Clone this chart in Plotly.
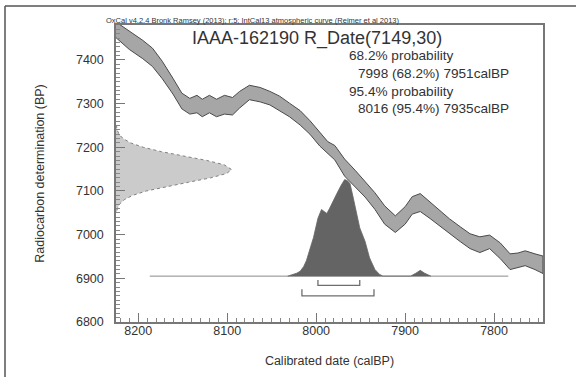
import plotly.graph_objects as go

# ---------------- data ----------------
# IntCal13 calibration band (calBP, upper BP, lower BP)
curve_cal = [8225, 8210, 8195, 8184, 8173, 8161, 8151, 8142, 8134, 8128, 8120, 8112, 8103, 8094,
             8086, 8075, 8063, 8052, 8041, 8030, 8018, 8007, 7996, 7987, 7979, 7968, 7956, 7945,
             7934, 7923, 7911, 7900, 7892, 7883, 7872, 7861, 7850, 7838, 7827, 7816, 7805, 7793,
             7782, 7773, 7765, 7754, 7745]
curve_upper = [7487, 7466, 7445, 7427, 7397, 7358, 7324, 7312, 7319, 7310, 7319, 7310, 7319, 7314,
               7328, 7342, 7337, 7328, 7317, 7301, 7284, 7261, 7234, 7213, 7204, 7173, 7147, 7122,
               7096, 7066, 7043, 7064, 7087, 7094, 7075, 7055, 7036, 7018, 7002, 6995, 6999, 6981,
               6956, 6958, 6963, 6956, 6951]
curve_lower = [7451, 7424, 7403, 7385, 7357, 7322, 7288, 7276, 7279, 7270, 7279, 7270, 7276, 7274,
               7290, 7309, 7304, 7297, 7283, 7270, 7251, 7230, 7203, 7187, 7171, 7134, 7110, 7086,
               7058, 7024, 7005, 7024, 7047, 7053, 7037, 7021, 7003, 6984, 6968, 6959, 6968, 6945,
               6920, 6925, 6929, 6920, 6911]

# Radiocarbon date R_Date(7149,30): BP values and relative density
rdate_bp = [7250, 7240, 7230, 7220, 7210, 7200, 7190, 7180, 7170, 7160, 7150, 7149, 7140, 7130,
            7120, 7110, 7100, 7090, 7080, 7070, 7060, 7050]
rdate_p = [0.0035, 0.010, 0.026, 0.061, 0.127, 0.236, 0.393, 0.586, 0.783, 0.935, 0.999, 1.0,
           0.956, 0.818, 0.627, 0.430, 0.263, 0.145, 0.071, 0.031, 0.012, 0.0043]

# Calibrated (posterior) distribution: calBP and relative probability
post_cal = [8032, 8028, 8022, 8018, 8014, 8011, 8007, 8003, 7998, 7994, 7991, 7988, 7985, 7981,
            7977, 7972, 7968, 7965, 7962, 7959, 7956, 7951, 7945, 7940, 7934, 7929, 7925,
            7894, 7888, 7883, 7878, 7871]
post_p = [0, 0.01, 0.03, 0.05, 0.10, 0.16, 0.27, 0.40, 0.60, 0.69, 0.67, 0.65, 0.70, 0.78,
          0.85, 0.94, 1.0, 0.99, 0.96, 0.84, 0.71, 0.50, 0.36, 0.19, 0.07, 0.02, 0,
          0, 0.03, 0.06, 0.03, 0]

# highest probability density ranges
hpd_68 = [7998, 7951]
hpd_95 = [8016, 7935]
baseline_range = [8187, 7784]

x_ticks = [8200, 8100, 8000, 7900, 7800]
y_ticks = [6800, 6900, 7000, 7100, 7200, 7300, 7400]

# ---------------- figure ----------------
XR = [8225, 7745]
YR = [6800, 7480]
base = 6905
post_scale = 221
rdate_scale = 130

fig = go.Figure()

# calibration band
fig.add_trace(go.Scatter(
    x=curve_cal + curve_cal[::-1], y=curve_upper + curve_lower[::-1],
    fill='toself', fillcolor='#a6a6a6', line=dict(color='#4a4a4a', width=1),
    mode='lines', hoverinfo='skip', showlegend=False))

# radiocarbon date distribution on the y axis
rx = [XR[0] - p * rdate_scale for p in rdate_p]
fig.add_trace(go.Scatter(
    x=[XR[0]] + rx + [XR[0]], y=[rdate_bp[0]] + rdate_bp + [rdate_bp[-1]],
    fill='toself', fillcolor='#cbcbcb', line=dict(color='#808080', width=1, dash='dot'),
    mode='lines', hoverinfo='skip', showlegend=False))

# baseline
fig.add_trace(go.Scatter(
    x=baseline_range, y=[base, base], mode='lines',
    line=dict(color='#8a8a8a', width=1), hoverinfo='skip', showlegend=False))

# posterior
py = [base + p * post_scale for p in post_p]
fig.add_trace(go.Scatter(
    x=post_cal, y=py, fill='toself', fillcolor='#646464',
    line=dict(color='#646464', width=0.8), mode='lines', hoverinfo='skip', showlegend=False))

# hpd brackets
for rng, yb, yt in [(hpd_68, 6884, 6896), (hpd_95, 6860, 6875)]:
    fig.add_trace(go.Scatter(
        x=[rng[0], rng[0], rng[1], rng[1]], y=[yt, yb, yb, yt], mode='lines',
        line=dict(color='#6e6e6e', width=1.3), hoverinfo='skip', showlegend=False))

font = 'Liberation Sans, Arial'
axis_common = dict(
    showline=True, linecolor='#777777', linewidth=1.5, mirror=True,
    ticks='inside', ticklen=9, tickcolor='#777777', tickwidth=1,
    showgrid=False, zeroline=False, automargin=False,
    tickfont=dict(family=font, size=12.5, color='#333333'),
    minor=dict(ticks='inside', ticklen=4, dtick=10, tickcolor='#888888', showgrid=False),
)

fig.update_xaxes(range=XR, tickvals=x_ticks, ticktext=[str(v) for v in x_ticks],
                 ticklabelstandoff=-4,
                 title=dict(text='Calibrated date (calBP)', standoff=19,
                            font=dict(family=font, size=12.5, color='#333333')),
                 **axis_common)
fig.update_yaxes(range=YR, tickvals=y_ticks, ticktext=[str(v) for v in y_ticks],
                 ticklabelstandoff=8,
                 title=dict(text='Radiocarbon determination (BP)', standoff=29,
                            font=dict(family=font, size=12.5, color='#333333')),
                 **axis_common)

L, R, T, B = 116, 33, 25, 55
W, H = 576, 377
pw, ph = W - L - R, H - T - B

def px(x):
    return (x - L) / pw

def py_(y):
    return (H - B - y) / ph

ann = [
    dict(text='OxCal v4.2.4 Bronk Ramsey (2013); r:5; IntCal13 atmospheric curve (Reimer et al 2013)',
         x=px(104), y=py_(20.5), xanchor='left', yanchor='middle', size=7.5),
    dict(text='IAAA-162190 R_Date(7149,30)', x=px(317), y=py_(38), xanchor='center',
         yanchor='middle', size=18),
    dict(text='68.2% probability', x=px(347), y=py_(55), xanchor='left', yanchor='middle', size=13.6),
    dict(text='7998 (68.2%) 7951calBP', x=px(356), y=py_(73), xanchor='left', yanchor='middle', size=13.6),
    dict(text='95.4% probability', x=px(347), y=py_(91), xanchor='left', yanchor='middle', size=13.6),
    dict(text='8016 (95.4%) 7935calBP', x=px(356), y=py_(108.5), xanchor='left', yanchor='middle', size=13.6),
]
for a in ann:
    fig.add_annotation(text=a['text'], x=a['x'], y=a['y'], xref='paper', yref='paper',
                       xanchor=a['xanchor'], yanchor=a['yanchor'], showarrow=False,
                       font=dict(family=font, size=a['size'], color='#333333'))

# outer frame (cropped figure border: top and left)
fig.add_shape(type='line', xref='paper', yref='paper', x0=px(5), x1=px(600), y0=py_(6), y1=py_(6),
              line=dict(color='#555555', width=1.5))
fig.add_shape(type='line', xref='paper', yref='paper', x0=px(5), x1=px(5), y0=py_(6), y1=py_(400),
              line=dict(color='#555555', width=1.5))

fig.update_layout(
    width=W, height=H, margin=dict(l=L, r=R, t=T, b=B, autoexpand=False),
    paper_bgcolor='white', plot_bgcolor='white', showlegend=False,
)

fig.write_html('out.html', config={'displayModeBar': False},
               post_script="document.body.style.margin='0';document.body.style.overflow='hidden';")
